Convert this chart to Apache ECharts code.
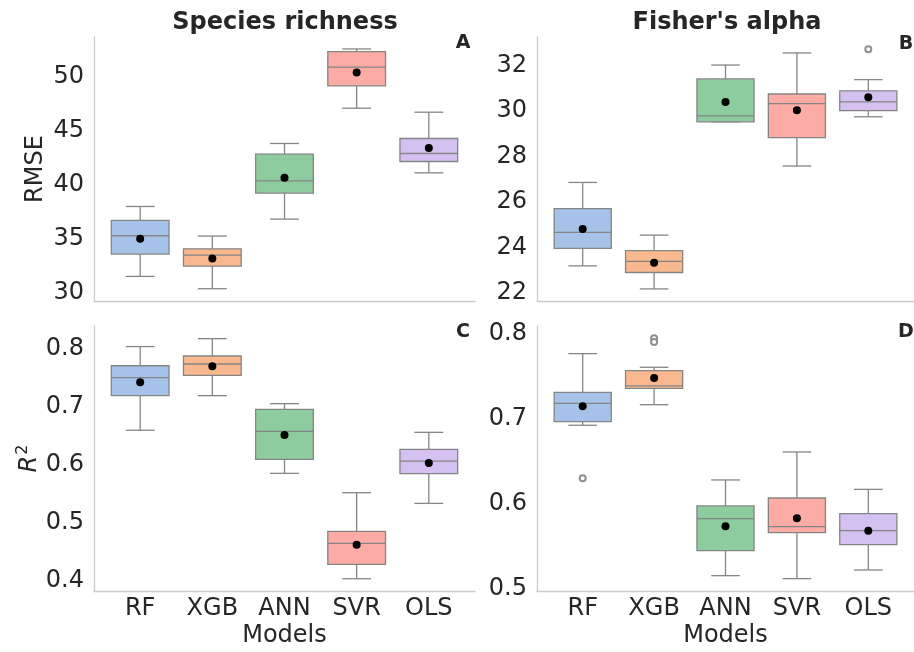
<!DOCTYPE html>
<html>
<head>
<meta charset="utf-8">
<script src="https://cdn.jsdelivr.net/npm/echarts@6/dist/echarts.min.js"></script>
<style>
  html, body { margin: 0; padding: 0; background: #fff; }
  #chart { width: 914px; height: 652px; }
</style>
</head>
<body>
<div id="chart"></div>
<script>
// models on the x axis
const models = ["RF", "XGB", "ANN", "SVR", "OLS"];

// box stats per model: [lower whisker, Q1, median, Q3, upper whisker]
const richnessRmse = [
  [31.54, 33.61, 35.31, 36.73, 38.02],
  [30.40, 32.50, 33.52, 34.10, 35.28],
  [36.85, 39.26, 40.40, 42.87, 43.86],
  [47.13, 49.20, 50.93, 52.38, 52.62],
  [41.14, 42.19, 42.93, 44.32, 46.76]
];
const richnessRmseMean = [35.03, 33.21, 40.68, 50.43, 43.43];
const richnessRmseOutliers = [];

const fisherRmse = [
  [23.20, 23.97, 24.67, 25.71, 26.86],
  [22.19, 22.91, 23.40, 23.87, 24.55],
  [29.52, 29.52, 29.78, 31.40, 32.01],
  [27.58, 28.83, 30.32, 30.74, 32.54],
  [29.74, 30.01, 30.39, 30.88, 31.37]
];
const fisherRmseMean = [24.82, 23.34, 30.39, 30.03, 30.60];
const fisherRmseOutliers = [[4, 32.70]];

const richnessR2 = [
  [0.659, 0.7185, 0.7495, 0.770, 0.803],
  [0.7185, 0.7535, 0.773, 0.7868, 0.8166],
  [0.5848, 0.6089, 0.6571, 0.695, 0.7047],
  [0.4034, 0.4281, 0.4643, 0.4849, 0.5515],
  [0.5331, 0.5842, 0.606, 0.6261, 0.6554]
];
const richnessR2Mean = [0.7415, 0.769, 0.6508, 0.462, 0.6026];
const richnessR2Outliers = [];

const fisherR2 = [
  [0.6923, 0.6966, 0.7182, 0.7312, 0.7768],
  [0.7166, 0.7359, 0.7387, 0.7567, 0.7607],
  [0.5149, 0.5444, 0.5821, 0.5971, 0.6278],
  [0.5114, 0.5656, 0.5727, 0.6065, 0.6608],
  [0.5216, 0.5515, 0.568, 0.588, 0.6167]
];
const fisherR2Mean = [0.7147, 0.7481, 0.5731, 0.5825, 0.568];
const fisherR2Outliers = [[0, 0.6297], [1, 0.7949], [1, 0.7906]];

// tick labels
const xTicks = [0, 1, 2, 3, 4];
const rmseRichTicks = [30, 35, 40, 45, 50];
const rmseFisherTicks = [22, 24, 26, 28, 30, 32];
const r2RichTicks = [0.4, 0.5, 0.6, 0.7, 0.8];
const r2FisherTicks = [0.5, 0.6, 0.7, 0.8];

const boxColors = ["#a5c3e8", "#f9b88e", "#8ccc9e", "#fdaba5", "#d5c0f2"];
const LINE = "#858585";
const TEXT = "#262626";
const FONT = "DejaVu Sans";

function renderBox(params, api) {
  const x = api.value(0);
  const lo = api.coord([x, api.value(1)]);
  const q1 = api.coord([x, api.value(2)]);
  const med = api.coord([x, api.value(3)]);
  const q3 = api.coord([x, api.value(4)]);
  const hi = api.coord([x, api.value(5)]);
  const bw = api.size([0.8, 0])[0];
  const cx = lo[0];
  const cap = bw / 4;
  const st = { stroke: LINE, lineWidth: 1.3 };
  return {
    type: "group",
    children: [
      { type: "line", shape: { x1: cx, y1: lo[1], x2: cx, y2: q1[1] }, style: st },
      { type: "line", shape: { x1: cx, y1: q3[1], x2: cx, y2: hi[1] }, style: st },
      { type: "line", shape: { x1: cx - cap, y1: lo[1], x2: cx + cap, y2: lo[1] }, style: st },
      { type: "line", shape: { x1: cx - cap, y1: hi[1], x2: cx + cap, y2: hi[1] }, style: st },
      {
        type: "rect",
        shape: { x: cx - bw / 2, y: q3[1], width: bw, height: q1[1] - q3[1] },
        style: { fill: boxColors[params.dataIndex], stroke: LINE, lineWidth: 1.3 }
      },
      { type: "line", shape: { x1: cx - bw / 2, y1: med[1], x2: cx + bw / 2, y2: med[1] }, style: st }
    ]
  };
}

const grids = [
  { left: 94, top: 37, width: 381, height: 264 },
  { left: 537, top: 37, width: 381, height: 264 },
  { left: 94, top: 326, width: 381, height: 265 },
  { left: 537, top: 326, width: 381, height: 265 }
];

const panels = [
  { stats: richnessRmse, mean: richnessRmseMean, out: richnessRmseOutliers, ticks: rmseRichTicks, min: 29.26, max: 53.73, name: "RMSE", showX: false },
  { stats: fisherRmse, mean: fisherRmseMean, out: fisherRmseOutliers, ticks: rmseFisherTicks, min: 21.66, max: 33.24, name: "", showX: false },
  { stats: richnessR2, mean: richnessR2Mean, out: richnessR2Outliers, ticks: r2RichTicks, min: 0.3823, max: 0.8384, name: "{r|R}{s|2}", showX: true },
  { stats: fisherR2, mean: fisherR2Mean, out: fisherR2Outliers, ticks: r2FisherTicks, min: 0.4968, max: 0.8094, name: "", showX: true }
];

const xAxes = [], yAxes = [], series = [];
panels.forEach((p, i) => {
  xAxes.push({
    type: "value", gridIndex: i, min: -0.64, max: 4.64,
    axisLine: { show: true, onZero: false, lineStyle: { color: "#cccccc", width: 1.3 } },
    axisTick: { show: false },
    splitLine: { show: false },
    axisLabel: {
      show: p.showX, customValues: xTicks, formatter: (v) => models[v],
      fontSize: 24, color: TEXT, fontFamily: FONT, margin: 6
    },
    name: p.showX ? "Models" : "",
    nameLocation: "middle", nameGap: 33,
    nameTextStyle: { fontSize: 24, color: TEXT, fontFamily: FONT }
  });
  yAxes.push({
    type: "value", gridIndex: i, min: p.min, max: p.max,
    axisLine: { show: true, onZero: false, lineStyle: { color: "#cccccc", width: 1.3 } },
    axisTick: { show: false },
    splitLine: { show: false },
    axisLabel: {
      customValues: p.ticks, fontSize: 24, color: TEXT, fontFamily: FONT, margin: 10
    },
    name: p.name, nameLocation: "middle", nameRotate: 90,
    nameGap: i === 0 ? 46 : 49,
    nameTextStyle: {
      fontSize: 24, color: TEXT, fontFamily: FONT,
      rich: {
        r: { fontSize: 24, fontStyle: "italic", color: TEXT, fontFamily: FONT },
        s: { fontSize: 16, color: TEXT, fontFamily: FONT, padding: [0, 0, 14, 1] }
      }
    }
  });
  series.push({
    type: "custom", xAxisIndex: i, yAxisIndex: i,
    renderItem: renderBox,
    encode: { x: 0, y: [1, 2, 3, 4, 5] },
    data: p.stats.map((s, k) => [k].concat(s)),
    z: 2
  });
  series.push({
    type: "scatter", xAxisIndex: i, yAxisIndex: i,
    data: p.mean.map((m, k) => [k, m]),
    symbolSize: 8, itemStyle: { color: "#000", opacity: 1 }, z: 5
  });
  series.push({
    type: "scatter", xAxisIndex: i, yAxisIndex: i,
    data: p.out,
    symbol: "emptyCircle", symbolSize: 6,
    itemStyle: { color: "#8f8f8f", borderColor: "#8f8f8f", borderWidth: 0.9, opacity: 1 }, z: 5
  });
});

const titleStyle = { fontSize: 24, fontWeight: "bold", color: TEXT, fontFamily: FONT };
const letterStyle = { fontSize: 19, fontWeight: "bold", color: TEXT, fontFamily: FONT };

const option = {
  animation: false,
  backgroundColor: "#fff",
  title: [
    { text: "Species richness", left: 285, top: 11, textAlign: "center", padding: 0, textStyle: titleStyle },
    { text: "Fisher's alpha", left: 727, top: 11, textAlign: "center", padding: 0, textStyle: titleStyle },
    { text: "A", left: 463, top: 34, textAlign: "center", padding: 0, textStyle: letterStyle },
    { text: "B", left: 906, top: 35, textAlign: "center", padding: 0, textStyle: letterStyle },
    { text: "C", left: 463, top: 323, textAlign: "center", padding: 0, textStyle: letterStyle },
    { text: "D", left: 906, top: 323, textAlign: "center", padding: 0, textStyle: letterStyle }
  ],
  grid: grids,
  xAxis: xAxes,
  yAxis: yAxes,
  series: series
};

const chart = echarts.init(document.getElementById("chart"));
chart.setOption(option);
</script>
</body>
</html>
